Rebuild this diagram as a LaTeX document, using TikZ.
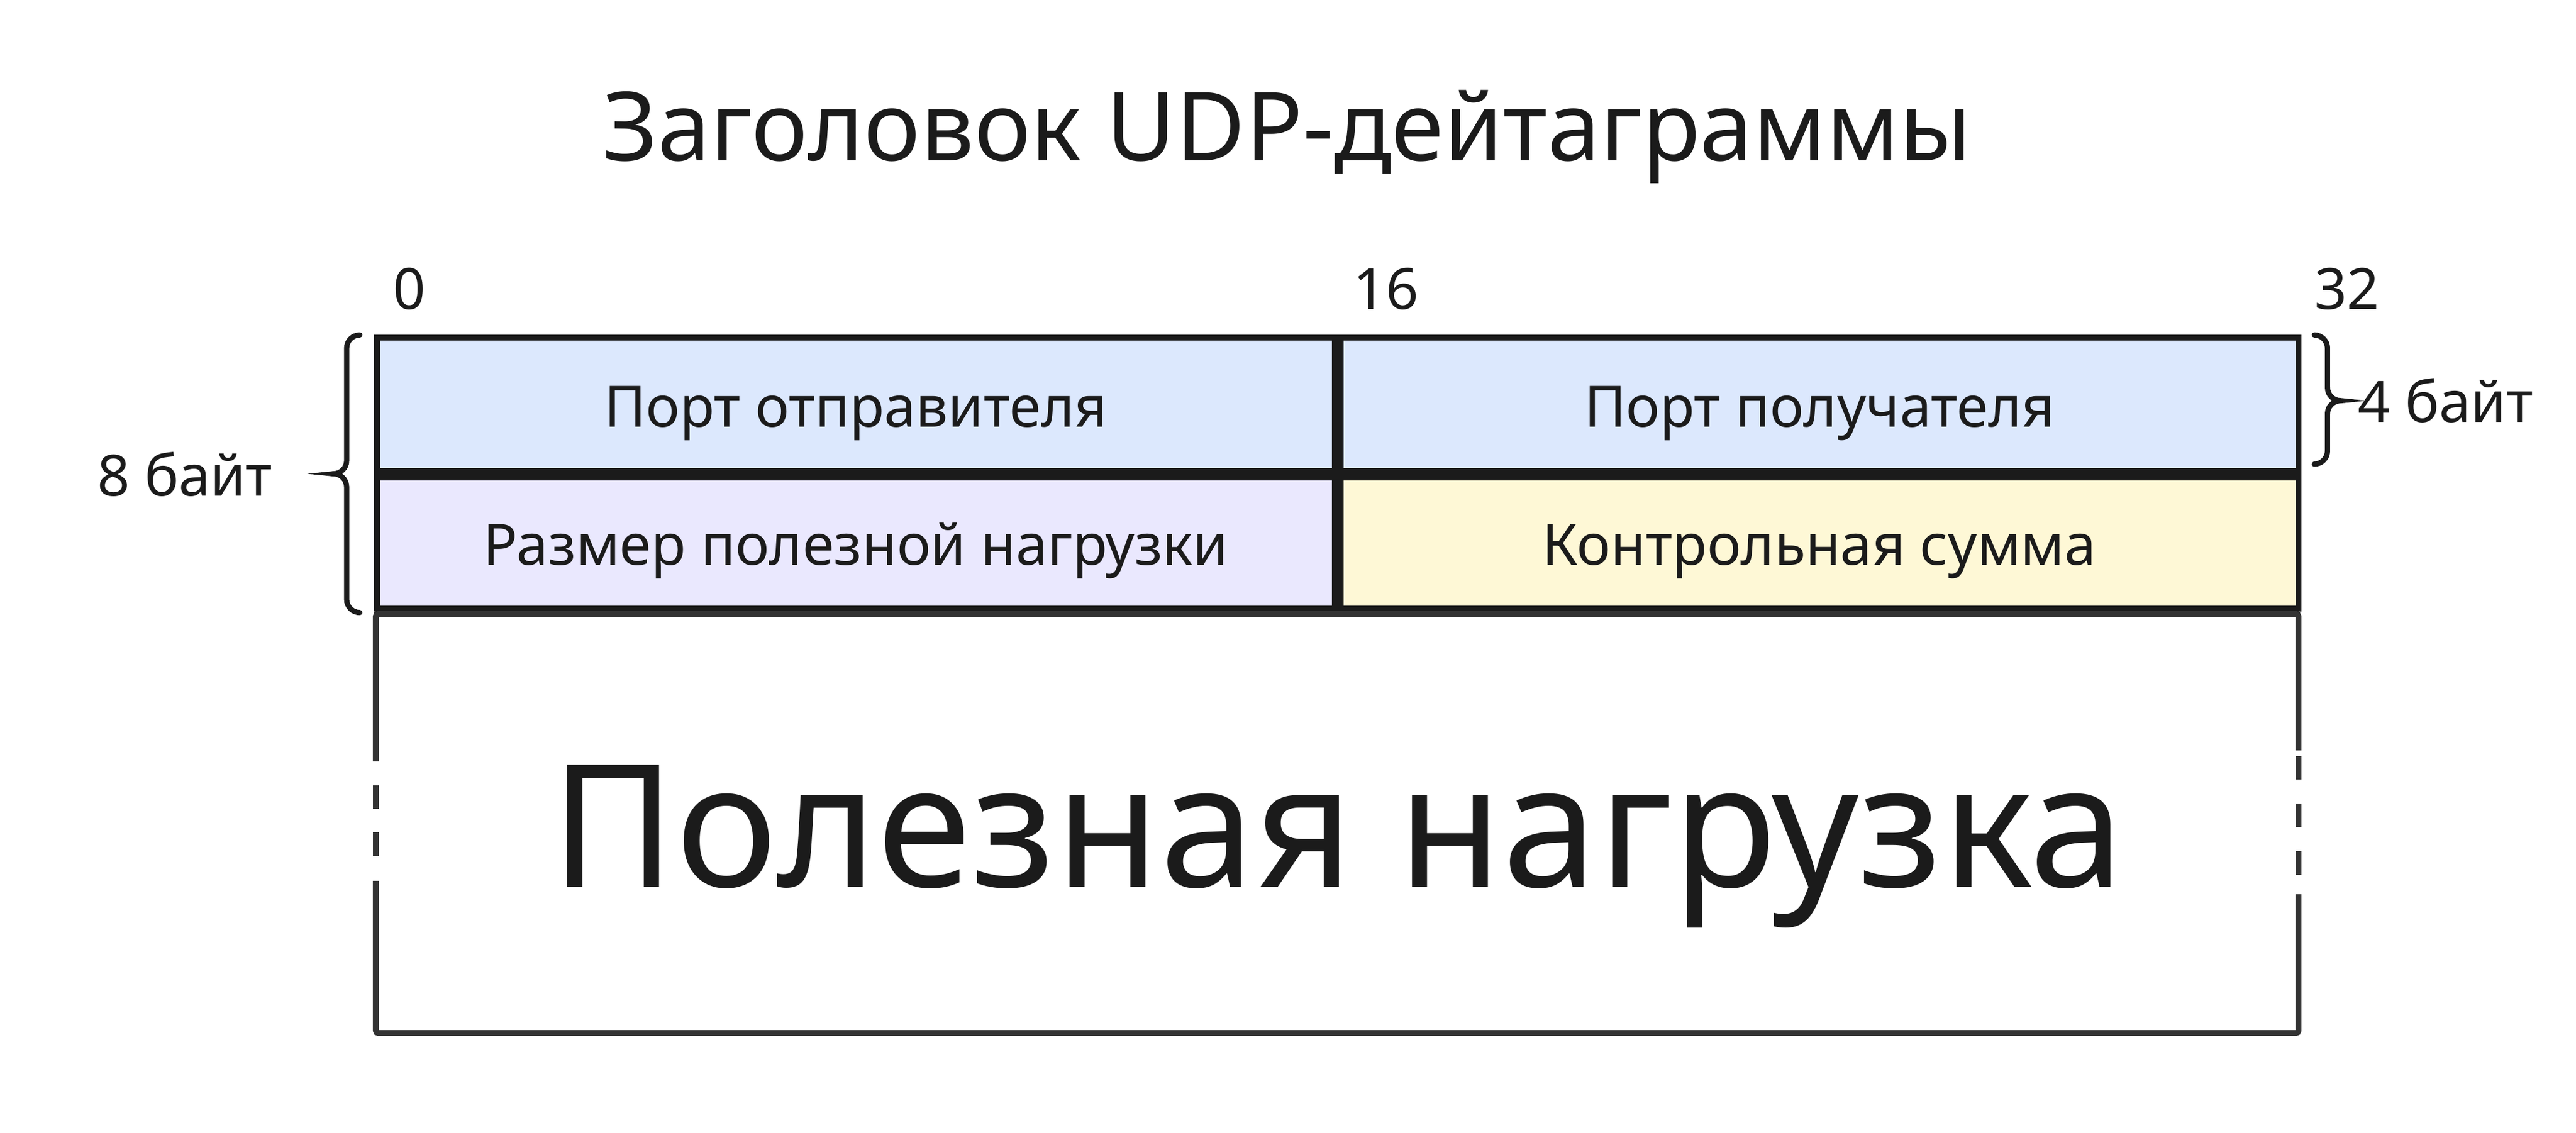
\documentclass[tikz,border=0pt]{standalone}
\usepackage{fontspec}
\setmainfont{Noto Sans}
\definecolor{ink}{HTML}{1B1B1B}
\definecolor{payink}{HTML}{333333}
\definecolor{cblue}{RGB}{220,232,253}
\definecolor{clav}{RGB}{234,232,254}
\definecolor{cyel}{RGB}{254,248,214}
\begin{document}
\begin{tikzpicture}[x=1pt,y=1pt,
  cell/.style={draw=ink, line width=3.6pt, inner sep=0pt},
  lbl/.style={inner sep=0pt, text=ink, font=\fontsize{34.7}{42}\selectfont},
  ttl/.style={inner sep=0pt, text=ink, font=\fontsize{58}{70}\selectfont},
  big/.style={inner sep=0pt, text=ink, font=\fontsize{104}{120}\selectfont},
  pay/.style={draw=payink, line width=3.6pt, line cap=butt},
  brc/.style={draw=ink, line width=3.2pt, line cap=round}]
\useasboundingbox (0,0) rectangle (1568,-689.6);

% title
\node[ttl, anchor=base] (title) at (783.5,-98) {Заголовок UDP-дейтаграммы};

% bit positions
\node[lbl, anchor=base west] (n0) at (239,-188.2) {0};
\node[lbl, anchor=base west] (n16) at (823.5,-188.2) {16};
\node[lbl, anchor=base west] (n32) at (1408.5,-188.2) {32};

% header cells
\node[cell, fill=cblue, minimum width=582.9pt, minimum height=81.4pt] (srcport) at (520.95,-246.3) {};
\node[cell, fill=cblue, minimum width=583pt, minimum height=81.4pt] (dstport) at (1107.5,-246.3) {};
\node[cell, fill=clav, minimum width=582.9pt, minimum height=80.1pt] (length) at (520.95,-330.65) {};
\node[cell, fill=cyel, minimum width=583pt, minimum height=80.1pt] (checksum) at (1107.5,-330.65) {};

\node[lbl, anchor=base] (srclbl) at (520.95,-259.8) {Порт отправителя};
\node[lbl, anchor=base] (dstlbl) at (1107.5,-259.8) {Порт получателя};
\node[lbl, anchor=base] (lenlbl) at (520.95,-344.2) {Размер полезной нагрузки};
\node[lbl, anchor=base] (chklbl) at (1107.5,-344.2) {Контрольная сумма};

% payload box
\draw[pay, rounded corners=1.5pt] (228.8,-463.7) -- (228.8,-373.8) -- (1399,-373.8) -- (1399,-457);
\draw[pay, rounded corners=1.5pt] (1399,-544.5) -- (1399,-629) -- (228.8,-629) -- (228.8,-536.4);
\draw[pay] (228.8,-478.3) -- (228.8,-492.5);
\draw[pay] (228.8,-506.8) -- (228.8,-521.4);
\draw[pay] (1399,-460.3) -- (1399,-474.6);
\draw[pay] (1399,-489.2) -- (1399,-503.7);
\draw[pay] (1399,-518.3) -- (1399,-532.9);
\node[big, anchor=base] (payload) at (814,-540) {Полезная нагрузка};

% left brace (8 bytes)
\draw[brc] (219,-204) arc[start angle=90, end angle=180, radius=8]
  -- (211,-280.5) arc[start angle=0, end angle=-90, radius=8]
  arc[start angle=90, end angle=0, radius=8]
  -- (211,-365) arc[start angle=180, end angle=270, radius=8];
\node[lbl, anchor=base east] (eight) at (166,-302) {8 байт};

% right brace (4 bytes)
\draw[brc] (1408.7,-204) arc[start angle=90, end angle=0, radius=8]
  -- (1416.7,-236) arc[start angle=180, end angle=270, radius=8]
  arc[start angle=90, end angle=180, radius=8]
  -- (1416.7,-274.6) arc[start angle=0, end angle=-90, radius=8];
\node[lbl, anchor=base west] (four) at (1435,-257) {4 байт};
\end{tikzpicture}
\end{document}
